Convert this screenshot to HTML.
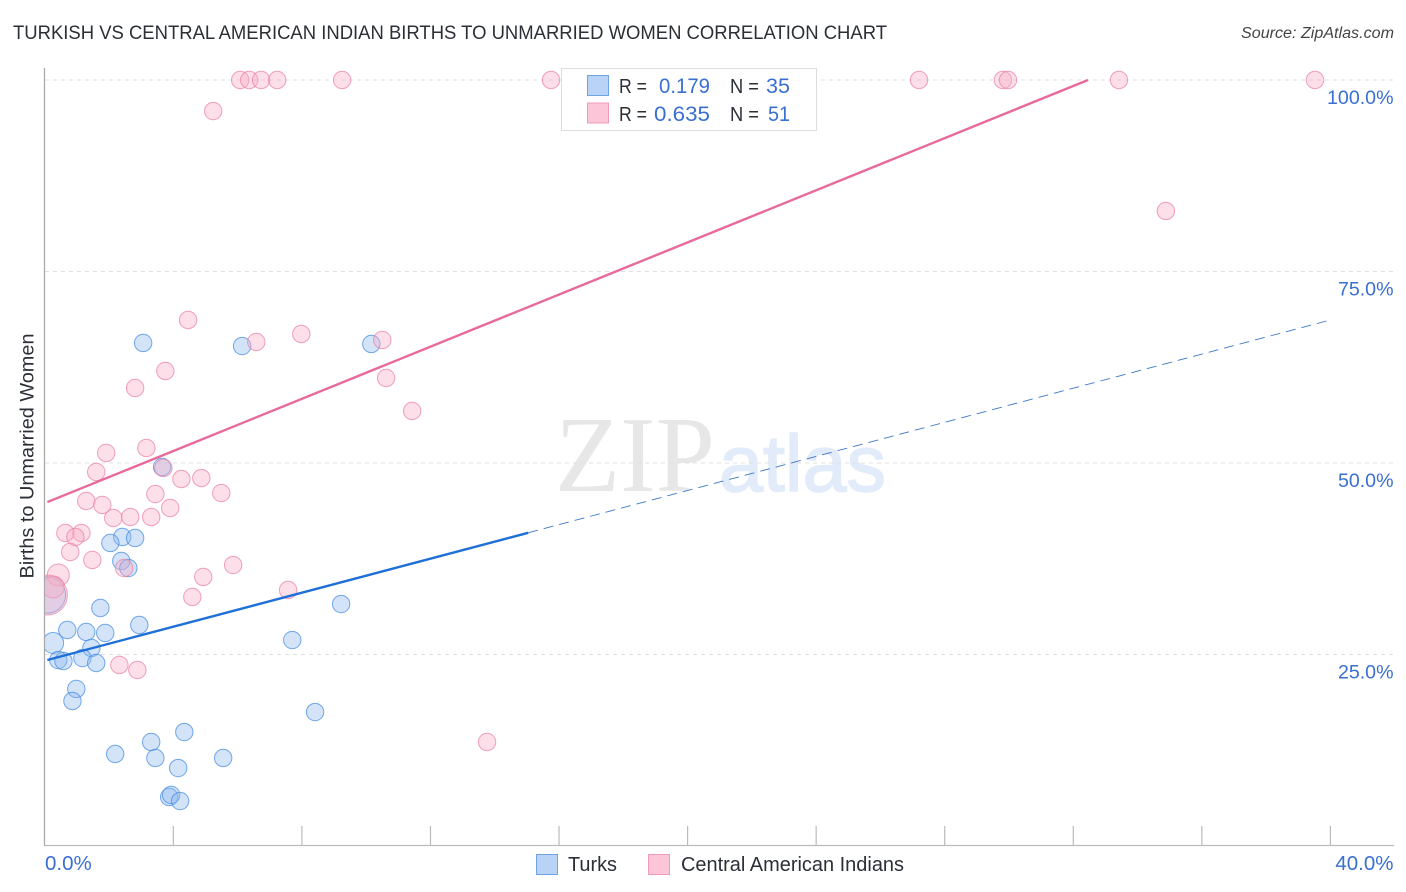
<!DOCTYPE html>
<html lang="en">
<head>
<meta charset="utf-8">
<title>Turkish vs Central American Indian Births to Unmarried Women Correlation Chart</title>
<style>
html,body{margin:0;padding:0;background:#fff;width:1406px;height:892px;overflow:hidden}
svg{display:block;font-family:"Liberation Sans",sans-serif}
</style>
</head>
<body>
<svg id="chart" xmlns="http://www.w3.org/2000/svg" width="1406" height="892" viewBox="0 0 1406 892">
  <defs><clipPath id="plot-clip"><rect x="45" y="60" width="1349" height="786"/></clipPath></defs>
  <text x="13" y="39" font-size="19.5" fill="#2b2f36" textLength="874" lengthAdjust="spacingAndGlyphs">TURKISH VS CENTRAL AMERICAN INDIAN BIRTHS TO UNMARRIED WOMEN CORRELATION CHART</text>
  <text x="1241" y="38" font-size="15.5" font-style="italic" fill="#444" textLength="153" lengthAdjust="spacingAndGlyphs">Source: ZipAtlas.com</text>
  <g>
    <text x="555" y="491" font-family="'Liberation Serif',serif" font-size="108" fill="#e7e7e7" textLength="160" lengthAdjust="spacingAndGlyphs">ZIP</text>
    <text x="719" y="491" font-size="80" fill="#e1ebf9" stroke="#e1ebf9" stroke-width="1.5" textLength="167" lengthAdjust="spacingAndGlyphs">atlas</text>
  </g>
  <g id="grid"></g>
  <g id="axes"></g>
  <text transform="translate(33.5,456) rotate(-90)" text-anchor="middle" font-size="19.5" fill="#2b2f36" textLength="245" lengthAdjust="spacingAndGlyphs">Births to Unmarried Women</text>
  <g id="marks" clip-path="url(#plot-clip)"></g>
  <g id="trends"></g>
  <g>
    <rect x="561.5" y="68.5" width="255" height="62" fill="#fff" stroke="#ddd" stroke-width="1"/>
    <rect x="587.5" y="75.5" width="21" height="20" fill="#b9d3f6" stroke="#6fa3e6"/>
    <rect x="587.5" y="103" width="21" height="20" fill="#fcc6d8" stroke="#f09cb8"/>
    <g font-size="20" fill="#2b2f36">
      <text x="619" y="93" textLength="28" lengthAdjust="spacingAndGlyphs">R =</text>
      <text x="730" y="93" textLength="29" lengthAdjust="spacingAndGlyphs">N =</text>
      <text x="619" y="121" textLength="28" lengthAdjust="spacingAndGlyphs">R =</text>
      <text x="730" y="121" textLength="29" lengthAdjust="spacingAndGlyphs">N =</text>
    </g>
    <g font-size="21" fill="#3a6fd2">
      <text x="659" y="93" textLength="51" lengthAdjust="spacingAndGlyphs">0.179</text>
      <text x="766" y="93" textLength="24" lengthAdjust="spacingAndGlyphs">35</text>
      <text x="654" y="121" textLength="56" lengthAdjust="spacingAndGlyphs">0.635</text>
      <text x="768" y="121" textLength="22" lengthAdjust="spacingAndGlyphs">51</text>
    </g>
  </g>
  <g>
    <rect x="536.5" y="854.5" width="21" height="20" fill="#b9d3f6" stroke="#6fa3e6"/>
    <text x="568" y="871" font-size="20" fill="#2b2f36" textLength="49" lengthAdjust="spacingAndGlyphs">Turks</text>
    <rect x="648.5" y="854.5" width="21" height="20" fill="#fcc6d8" stroke="#f09cb8"/>
    <text x="681" y="871" font-size="20" fill="#2b2f36" textLength="223" lengthAdjust="spacingAndGlyphs">Central American Indians</text>
  </g>
</svg>
<script>
// Chart data, in percent
const xTickValues = [0, 4, 8, 12, 16, 20, 24, 28, 32, 36, 40];
const xLabelValues = [0, 40];
const yTickValues = [25, 50, 75, 100];

const turksX = [3.06, 6.14, 10.16, 3.65, 2.41, 2.04, 2.81, 2.38, 2.60, 1.73, 9.22, 2.94, 0.70, 1.29, 1.88, 7.70, 0.26, 1.45, 1.17, 0.42, 0.58, 1.60, 0.98, 0.86, 8.41, 4.34, 3.31, 2.19, 3.44, 5.55, 4.15, 3.87, 3.93, 4.21, 0.08];
const turksY = [65.67, 65.27, 65.54, 49.48, 40.34, 39.56, 40.21, 37.21, 36.29, 31.07, 31.59, 28.85, 28.20, 27.94, 27.81, 26.89, 26.50, 25.85, 24.54, 24.28, 24.15, 23.89, 20.50, 18.93, 17.49, 14.88, 13.58, 12.01, 11.49, 11.49, 10.18, 6.40, 6.66, 5.87, 32.77];
const turksWeight = [1, 1, 1, 1, 1, 1, 1, 1, 1, 1, 1, 1, 1, 1, 1, 1, 1.45, 1, 1, 1, 1, 1, 1, 1, 1, 1, 1, 1, 1, 1, 1, 1, 1, 1, 4.4];

const indiansX = [6.08, 6.36, 6.73, 7.23, 9.25, 15.75, 27.20, 29.81, 29.97, 33.42, 39.52, 5.24, 34.88, 4.46, 6.58, 7.98, 10.50, 3.75, 10.62, 2.81, 11.43, 3.16, 1.91, 1.60, 3.69, 4.25, 4.87, 3.44, 5.49, 1.29, 1.79, 3.90, 2.13, 2.66, 3.31, 0.64, 1.14, 0.95, 0.79, 1.48, 2.47, 5.86, 4.93, 0.42, 4.59, 7.57, 2.32, 2.88, 13.76, 0.26, 0.08];
const indiansY = [100, 100, 100, 100, 100, 100, 100, 100, 100, 100, 100, 95.95, 82.90, 68.67, 65.80, 66.84, 66.06, 62.01, 61.10, 59.79, 56.79, 51.96, 51.31, 48.83, 49.35, 47.91, 48.04, 45.95, 46.08, 45.04, 44.52, 44.13, 42.82, 42.95, 42.95, 40.86, 40.86, 40.34, 38.38, 37.34, 36.29, 36.68, 35.12, 35.38, 32.51, 33.42, 23.63, 22.98, 13.58, 33.81, 32.77];
const indiansWeight = [1, 1, 1, 1, 1, 1, 1, 1, 1, 1, 1, 1, 1, 1, 1, 1, 1, 1, 1, 1, 1, 1, 1, 1, 1, 1, 1, 1, 1, 1, 1, 1, 1, 1, 1, 1, 1, 1, 1, 1, 1, 1, 1, 1.6, 1, 1, 1, 1, 1, 1.6, 5.3];

const turksTrendX = [0.08, 15.04, 40];
const turksTrendY = [24.28, 40.89, 68.67];
const indiansTrendX = [0.08, 32.46];
const indiansTrendY = [44.9, 100];

// Axis functions
const xScale = v => 44.8 + v * 32.14;
const yScale = v => 846 - v * 7.66;
const rScale = w => 8.7 * Math.sqrt(w);
const NS = 'http://www.w3.org/2000/svg';

function make(tag, parent, attrs) {
  const el = document.createElementNS(NS, tag);
  for (const k in attrs) el.setAttribute(k, attrs[k]);
  parent.appendChild(el);
  return el;
}

const grid = document.getElementById('grid');
const axes = document.getElementById('axes');
const marks = document.getElementById('marks');
const trends = document.getElementById('trends');

yTickValues.forEach(v => {
  const line = make('line', grid, {x1: 45, x2: 1394, y1: yScale(v), y2: yScale(v), stroke: '#e0e0e0', 'stroke-width': 1, 'stroke-dasharray': '4 4'});
  
  
  const label = make('text', axes, {x: 1393.5, y: yScale(v) + 24, 'text-anchor': 'end', 'font-size': 19.6, fill: '#3a6fd2'});
  label.textContent = v.toFixed(1) + '%';
  
  
});

const yAxisLine = make('line', axes, {x1: 44.5, x2: 44.5, y1: 68, y2: 846, stroke: '#aaa', 'stroke-width': 1.3});


const xAxisLine = make('line', axes, {x1: 44, x2: 1394, y1: 845.5, y2: 845.5, stroke: '#bbb', 'stroke-width': 1.3});



xTickValues.slice(1).forEach(v => {
  const tick = make('line', axes, {x1: xScale(v), x2: xScale(v), y1: 826, y2: 846, stroke: '#bbb', 'stroke-width': 1.2});
  
  
});

xLabelValues.forEach(v => {
  const isFirst = v === xLabelValues[0];
  const label = make('text', axes, {x: isFirst ? xScale(v) + 0.2 : 1393.5, y: 870, 'text-anchor': isFirst ? 'start' : 'end', 'font-size': 20.5, fill: '#3a6fd2'});
  label.textContent = v.toFixed(1) + '%';
  
  
});

turksX.forEach((x, i) => {
  const dot = make('circle', marks, {cx: xScale(x), cy: yScale(turksY[i]), r: rScale(turksWeight[i]), fill: 'rgba(140,185,240,0.38)', stroke: 'rgba(70,140,225,0.75)', 'stroke-width': 1});
  
  
});

indiansX.forEach((x, i) => {
  const dot = make('circle', marks, {cx: xScale(x), cy: yScale(indiansY[i]), r: rScale(indiansWeight[i]), fill: 'rgba(248,170,195,0.38)', stroke: 'rgba(235,130,165,0.75)', 'stroke-width': 1});
  
  
});

const dashedTrend = make('line', trends, {x1: xScale(turksTrendX[1]), y1: yScale(turksTrendY[1]), x2: xScale(turksTrendX[2]), y2: yScale(turksTrendY[2]), stroke: '#3f78c8', 'stroke-width': 0.9, 'stroke-dasharray': '10 6'});


const solidTrend = make('line', trends, {x1: xScale(turksTrendX[0]), y1: yScale(turksTrendY[0]), x2: xScale(turksTrendX[1]), y2: yScale(turksTrendY[1]), stroke: '#1f6fd8', 'stroke-width': 2.4});


const pinkTrend = make('line', trends, {x1: xScale(indiansTrendX[0]), y1: yScale(indiansTrendY[0]), x2: xScale(indiansTrendX[1]), y2: yScale(indiansTrendY[1]), stroke: '#e8699b', 'stroke-width': 2.4});


</script>
</body>
</html>
